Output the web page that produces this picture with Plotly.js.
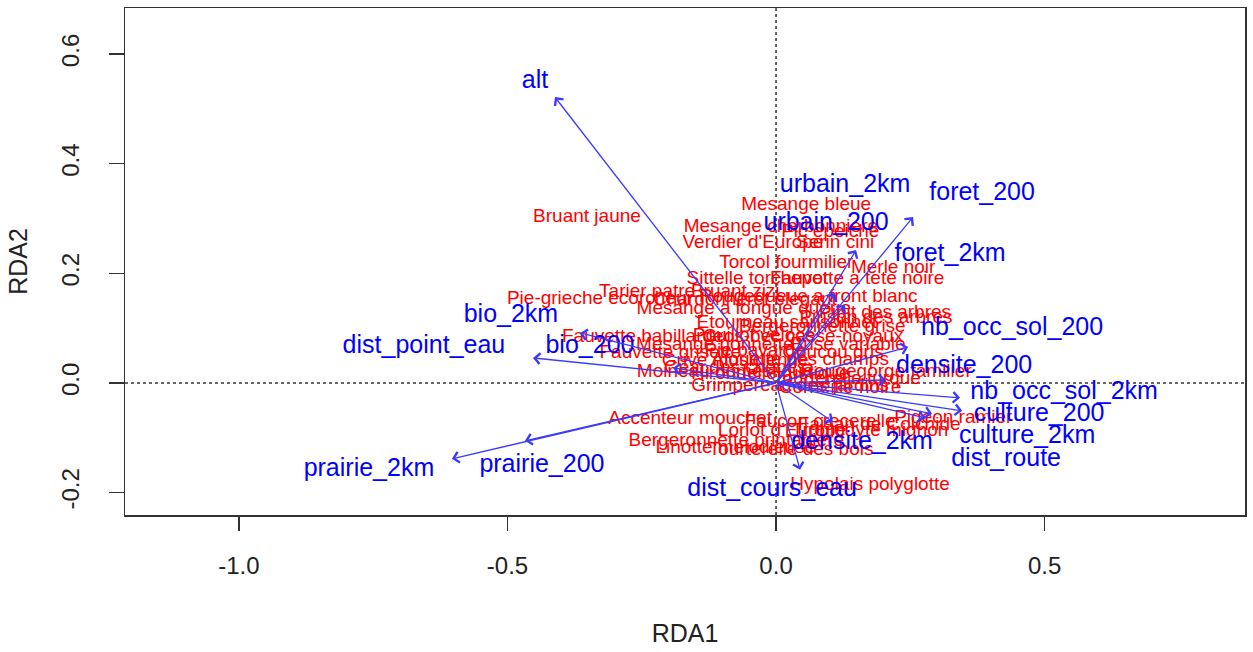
<!DOCTYPE html>
<html>
<head>
<meta charset="utf-8">
<script src="https://cdn.plot.ly/plotly-3.0.1.min.js"></script>
<style>html,body{margin:0;padding:0;background:#fff}#chart{width:1253px;height:652px}</style>
</head>
<body>
<div id="chart"></div>
<script>
// Environmental variables (biplot arrows): arrow tips and label positions
var envNames = ["alt","urbain_2km","foret_200","urbain_200","foret_2km","nb_occ_sol_200","densite_200","nb_occ_sol_2km","culture_200","culture_2km","dist_route","densite_2km","dist_cours_eau","prairie_200","prairie_2km","dist_point_eau","bio_2km","bio_200"];
var envX = [-0.4115, 0.149, 0.2551, 0.110, 0.1285, 0.2458, 0.2048, 0.3426, 0.3464, 0.2905, 0.2775, 0.106, 0.0447, -0.4674, -0.6034, -0.4525, -0.365, -0.1918];
var envY = [0.5214, 0.2425, 0.3026, 0.164, 0.142, 0.0656, 0.0055, -0.0273, -0.051, -0.0565, -0.0638, -0.0711, -0.1586, -0.1057, -0.1386, 0.0456, 0.0912, 0.0273];
var envLabX = [-0.4488, 0.1285, 0.3836, 0.0931, 0.324, 0.4395, 0.3501, 0.5363, 0.4898, 0.4674, 0.4283, 0.1601, -0.0074, -0.4358, -0.7579, -0.6555, -0.4935, -0.3464];
var envLabY = [0.5488, 0.3592, 0.3446, 0.2899, 0.2334, 0.0985, 0.0292, -0.0182, -0.0583, -0.0985, -0.1404, -0.1094, -0.1951, -0.1513, -0.1586, 0.0656, 0.1222, 0.0656];

// Species scores
var species = ["Bruant jaune","Mesange bleue","Mesange charbonniere","Pic epeiche","Verdier d'Europe","Serin cini","Torcol fourmilier","Merle noir","Sittelle torchepot","Fauvette a tete noire","Tarier patre","Bruant zizi","Rougequeue a front blanc","Pie-grieche ecorcheur","Chardonneret elegant","Mesange a longue queue","Pipit des arbres","Pinson des arbres","Etourneau sansonnet","Bergeronnette grise","Fauvette babillarde","Pouillot veloce","Gros-bec casse-noyaux","Mesange nonnette","Buse variable","Fauvette grisette","Pie bavarde","Coucou gris","Grive musicienne","Alouette des champs","Geai des chenes","Moineau domestique","Rougegorge familier","Hirondelle rustique","Tourterelle turque","Grimpereau des jardins","Corneille noire","Accenteur mouchet","Faucon crecerelle","Pigeon ramier","Faisan de Colchide","Loriot d'Europe","Troglodyte mignon","Bergeronnette printaniere","Linotte melodieuse","Tourterelle des bois","Hypolais polyglotte"];
var spX = [-0.352, 0.056, 0.009, 0.101, -0.043, 0.110, 0.019, 0.218, -0.035, 0.151, -0.240, -0.076, 0.060, -0.328, -0.058, -0.060, 0.203, 0.186, 0.020, 0.086, -0.248, -0.041, 0.050, -0.114, 0.134, -0.197, -0.039, 0.106, -0.076, 0.045, -0.076, -0.095, 0.205, -0.011, 0.132, 0.026, 0.119, -0.160, 0.082, 0.330, 0.192, 0.011, 0.175, -0.074, -0.076, 0.028, 0.175];
var spY = [0.303, 0.325, 0.284, 0.275, 0.255, 0.255, 0.219, 0.210, 0.190, 0.190, 0.166, 0.166, 0.157, 0.153, 0.151, 0.135, 0.128, 0.118, 0.109, 0.102, 0.084, 0.086, 0.084, 0.069, 0.069, 0.055, 0.057, 0.055, 0.040, 0.042, 0.026, 0.020, 0.020, 0.015, 0.007, -0.007, -0.009, -0.067, -0.071, -0.064, -0.077, -0.089, -0.089, -0.106, -0.119, -0.122, -0.186];

var xTicks = [-1.0, -0.5, 0.0, 0.5];
var xTickText = ["-1.0", "-0.5", "0.0", "0.5"];
var yTicks = [-0.2, 0.0, 0.2, 0.4, 0.6];
var yTickText = ["-0.2", "0.0", "0.2", "0.4", "0.6"];

var FONT = "Liberation Sans, Arial, Helvetica, sans-serif";
var BLUE = "#0000ff";
var ARROW = "#3a3aff";
var RED = "#ff0000";

var traces = [
  {
    type: "scatter", mode: "text",
    x: spX, y: spY, text: species,
    textposition: "middle center",
    textfont: {family: FONT, size: 19, color: RED},
    hoverinfo: "text", showlegend: false, cliponaxis: false
  },
  {
    type: "scatter", mode: "text",
    x: envLabX, y: envLabY, text: envNames,
    textposition: "middle center",
    textfont: {family: FONT, size: 25, color: BLUE},
    hoverinfo: "text", showlegend: false, cliponaxis: false
  }
];

var annotations = envNames.map(function (n, i) {
  return {
    x: envX[i], y: envY[i], xref: "x", yref: "y",
    ax: 0, ay: 0, axref: "x", ayref: "y",
    text: "", showarrow: true,
    arrowhead: 4, arrowsize: 1.6, arrowwidth: 1.3, arrowcolor: ARROW,
    standoff: 0, startstandoff: 0
  };
});

var layout = {
  width: 1253, height: 652,
  margin: {l: 125, r: 8, t: 8, b: 137},
  paper_bgcolor: "#fff", plot_bgcolor: "#fff",
  font: {family: FONT, color: "#222"},
  showlegend: false,
  xaxis: {
    range: [-1.212, 0.873],
    tickvals: xTicks, ticktext: xTickText,
    ticks: "outside", ticklen: 14, tickwidth: 1.4, tickcolor: "#333",
    tickfont: {family: FONT, size: 24, color: "#222"},
    ticklabelstandoff: 15,
    showgrid: false, zeroline: false,
    showline: true, mirror: true, linecolor: "#333", linewidth: 1.5,
    title: {text: "RDA1", font: {family: FONT, size: 25, color: "#222"}, standoff: 46}
  },
  yaxis: {
    range: [-0.241, 0.684],
    tickvals: yTicks, ticktext: yTickText,
    ticks: "outside", ticklen: 15, tickwidth: 1.4, tickcolor: "#333",
    tickangle: -90,
    tickfont: {family: FONT, size: 24, color: "#222"},
    ticklabelstandoff: 20,
    showgrid: false, zeroline: false,
    showline: true, mirror: true, linecolor: "#333", linewidth: 1.5,
    title: {text: "RDA2", font: {family: FONT, size: 25, color: "#222"}, standoff: 22}
  },
  shapes: [
    {type: "line", xref: "x", yref: "paper", x0: 0, x1: 0, y0: 0, y1: 1, line: {color: "#333", width: 1.5, dash: "dot"}, layer: "below"},
    {type: "line", xref: "paper", yref: "y", x0: 0, x1: 1, y0: 0, y1: 0, line: {color: "#333", width: 1.5, dash: "dot"}, layer: "below"}
  ],
  annotations: annotations
};

Plotly.newPlot("chart", traces, layout, {displayModeBar: false, staticPlot: true});
</script>
</body>
</html>
